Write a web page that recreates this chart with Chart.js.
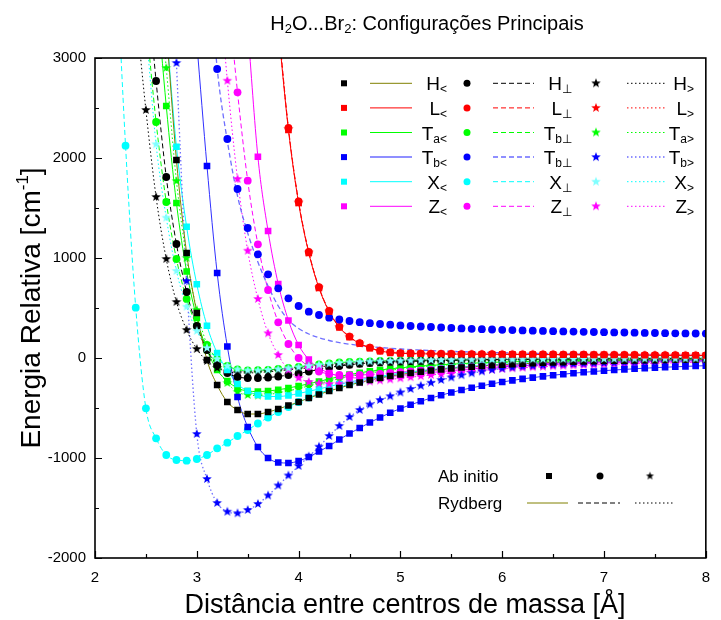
<!DOCTYPE html>
<html>
<head>
<meta charset="utf-8">
<script src="https://cdn.jsdelivr.net/npm/chart.js@4.4.1/dist/chart.umd.min.js"></script>
<style>
  html, body { margin: 0; padding: 0; background: #fff; }
</style>
</head>
<body>
<canvas id="grafico" width="721" height="620"></canvas>
<script>
// distancias (Angstrom) - grade comum a todas as series
var distancias = [2.2, 2.3, 2.4, 2.5, 2.6, 2.7, 2.8, 2.9, 3.0, 3.1, 3.2, 3.3, 3.4, 3.5, 3.6, 3.7, 3.8, 3.9,
  4.0, 4.1, 4.2, 4.3, 4.4, 4.5, 4.6, 4.7, 4.8, 4.9, 5.0, 5.1, 5.2, 5.3, 5.4, 5.5, 5.6, 5.7, 5.8, 5.9,
  6.0, 6.1, 6.2, 6.3, 6.4, 6.5, 6.6, 6.7, 6.8, 6.9, 7.0, 7.1, 7.2, 7.3, 7.4, 7.5, 7.6, 7.7, 7.8, 7.9, 8.0];

// energias relativas (cm-1)
var hMenor = [null, null, null, null, null, 3300, 1980, 1050, 450, -20, -270, -440, -520, -560, -560, -540, -510, -475,
  -440, -400, -365, -330, -300, -270, -245, -220, -200, -180, -165, -150, -137, -125, -114, -104, -95, -87, -80, -73,
  -67, -62, -57, -52, -48, -44, -41, -38, -35, -32, -30, -28, -26, -24, -22, -21, -19, -18, -17, -16, -15];
var hPerp = [null, null, null, 3900, 2770, 1810, 1140, 660, 320, 80, -70, -150, -190, -200, -200, -195, -185, -170,
  -155, -135, -115, -95, -80, -68, -58, -50, -44, -39, -35, -32, -29, -27, -25, -23, -21, -20, -18, -17,
  -16, -15, -14, -13, -12, -12, -11, -10, -10, -9, -9, -8, -8, -8, -7, -7, -7, -6, -6, -6, -5];
var hMaior = [null, null, 3500, 2480, 1610, 990, 560, 280, 90, -30, -100, -135, -150, -150, -145, -138, -128, -118,
  -108, -98, -88, -79, -71, -64, -57, -51, -46, -41, -37, -34, -31, -28, -26, -24, -22, -20, -19, -18,
  -17, -16, -15, -14, -13, -12, -12, -11, -10, -10, -9, -9, -8, -8, -8, -7, -7, -7, -6, -6, -6];

var lMenor = [null, null, null, null, null, null, null, null, null, null, null, null, null, null, null, null, 3300, 2280,
  1550, 1050, 700, 463, 307, 210, 145, 100, 70, 55, 47, 44, 42, 41, 40, 39, 38, 38, 37, 37,
  36, 36, 35, 35, 34, 34, 33, 33, 32, 31, 31, 30, 30, 29, 28, 28, 27, 27, 26, 26, 25];
var lPerp = [null, null, null, null, null, null, null, null, null, null, null, null, null, null, null, null, 3350, 2300,
  1565, 1060, 708, 470, 312, 214, 148, 103, 72, 56, 48, 45, 43, 42, 41, 40, 39, 39, 38, 38,
  37, 37, 36, 36, 35, 35, 34, 34, 33, 32, 32, 31, 31, 30, 29, 29, 28, 28, 27, 27, 26];
var lMaior = [null, null, null, null, null, null, null, null, null, null, null, null, null, null, null, null, 3320, 2290,
  1555, 1055, 704, 466, 309, 212, 146, 101, 71, 55, 47, 44, 42, 41, 40, 39, 38, 38, 37, 37,
  36, 36, 35, 35, 34, 34, 33, 33, 32, 31, 31, 30, 30, 29, 28, 28, 27, 27, 26, 26, 25];

var taMenor = [null, null, null, null, 3700, 2520, 1550, 865, 400, 80, -120, -230, -300, -330, -335, -330, -318, -300,
  -280, -258, -235, -210, -185, -165, -148, -133, -120, -108, -98, -89, -81, -74, -68, -62, -57, -52, -48, -44,
  -41, -38, -35, -33, -31, -29, -27, -25, -24, -22, -21, -20, -19, -18, -17, -16, -15, -14, -13, -13, -12];
var taPerp = [null, null, null, 3400, 2360, 1560, 990, 590, 320, 130, -10, -80, -115, -125, -122, -118, -110, -100,
  -88, -75, -63, -53, -45, -40, -36, -33, -30, -28, -26, -24, -22, -21, -20, -19, -18, -17, -16, -15,
  -14, -14, -13, -12, -12, -11, -11, -10, -10, -9, -9, -9, -8, -8, -8, -7, -7, -7, -7, -6, -6];
var taMaior = [null, null, null, null, 4000, 2900, 1770, 1000, 480, 130, -100, -250, -340, -370, -375, -365, -350, -330,
  -305, -280, -255, -230, -207, -186, -167, -150, -135, -122, -110, -99, -90, -82, -75, -68, -62, -57, -52, -48,
  -44, -41, -38, -35, -33, -31, -29, -27, -25, -24, -22, -21, -20, -19, -18, -17, -16, -15, -14, -14, -13];

var tbMenor = [null, null, null, null, null, null, null, null, 3150, 1920, 850, 115, -390, -690, -890, -1000, -1045, -1050,
  -1030, -990, -935, -880, -815, -755, -700, -645, -595, -547, -505, -468, -433, -400, -372, -345, -320, -298, -278, -258,
  -240, -224, -209, -196, -184, -172, -162, -152, -143, -135, -127, -120, -114, -108, -102, -97, -92, -88, -84, -80, -77];
var tbPerp = [null, null, null, null, null, null, null, null, null, 4000, 2890, 2190, 1690, 1300, 1037, 837, 697, 597,
  520, 463, 430, 403, 385, 370, 358, 348, 340, 333, 326, 320, 315, 310, 305, 300, 296, 292, 288, 285,
  282, 279, 276, 273, 271, 268, 266, 264, 262, 260, 258, 256, 255, 253, 251, 250, 248, 247, 246, 245, 244];
// ajuste Rydberg do Tb perpendicular (nao segue os pontos na cauda)
var tbPerpAjuste = [null, null, null, null, null, null, null, null, null, 4200, 2900, 2170, 1620, 1250, 960, 720, 520, 380,
  295, 240, 203, 175, 154, 138, 125, 114, 105, 97, 90, 84, 79, 74, 70, 66, 63, 60, 57, 54,
  52, 50, 48, 46, 44, 42, 41, 39, 38, 37, 35, 34, 33, 32, 31, 30, 29, 28, 27, 26, 25];
var tbMaior = [null, null, null, null, null, 5500, 2950, 770, -760, -1210, -1450, -1537, -1553, -1520, -1460, -1375, -1275, -1175,
  -1080, -985, -887, -780, -680, -590, -520, -465, -420, -382, -345, -310, -278, -248, -220, -195, -172, -152, -134, -118,
  -105, -94, -85, -78, -72, -67, -63, -59, -56, -53, -50, -48, -46, -44, -42, -41, -40, -38, -37, -36, -35];

var xMenor = [null, null, null, null, null, 3300, 2113, 1313, 737, 323, 50, -120, -260, -330, -370, -385, -385, -375,
  -355, -333, -310, -285, -262, -240, -220, -200, -183, -167, -152, -139, -127, -116, -106, -97, -89, -82, -75, -69,
  -63, -58, -54, -50, -46, -43, -40, -37, -34, -32, -30, -28, -26, -24, -23, -21, -20, -19, -18, -17, -16];
var xPerp = [4200, 2123, 503, -503, -803, -970, -1020, -1027, -1010, -970, -903, -847, -780, -720, -655, -595, -540, -490,
  -440, -395, -355, -320, -290, -262, -237, -215, -195, -177, -160, -146, -133, -121, -110, -100, -91, -83, -76, -70,
  -64, -59, -54, -50, -46, -42, -39, -36, -33, -31, -29, -27, -25, -23, -22, -20, -19, -18, -17, -16, -15];
var xMaior = [null, null, null, 3300, 2137, 1403, 870, 513, 270, 100, -10, -80, -115, -125, -125, -120, -113, -103,
  -92, -80, -68, -58, -50, -44, -39, -35, -32, -29, -27, -25, -23, -21, -20, -19, -18, -17, -16, -15,
  -14, -14, -13, -12, -12, -11, -11, -10, -10, -9, -9, -9, -8, -8, -8, -7, -7, -7, -7, -6, -6];

var zMenor = [null, null, null, null, null, null, null, null, null, null, null, null, null, 3300, 2013, 1270, 740, 375,
  130, -15, -100, -150, -180, -195, -200, -198, -192, -184, -175, -165, -155, -145, -135, -126, -117, -109, -101, -94,
  -88, -82, -77, -72, -67, -63, -59, -55, -52, -49, -46, -43, -41, -39, -37, -35, -33, -31, -30, -28, -27];
var zPerp = [null, null, null, null, null, null, null, null, null, null, null, 3700, 2657, 1773, 1137, 680, 357, 140,
  0, -85, -135, -160, -170, -172, -170, -165, -158, -150, -142, -134, -126, -118, -111, -104, -97, -91, -85, -80,
  -75, -70, -66, -62, -58, -55, -52, -49, -46, -43, -41, -39, -37, -35, -33, -31, -30, -28, -27, -26, -25];
var zMaior = [null, null, null, null, null, null, null, null, null, null, 4000, 2773, 1790, 1073, 590, 247, 30, -120,
  -200, -240, -255, -260, -258, -252, -244, -235, -225, -214, -203, -192, -181, -170, -160, -150, -141, -132, -124, -116,
  -109, -103, -97, -92, -87, -82, -78, -74, -71, -68, -65, -62, -59, -56, -54, -52, -50, -48, -46, -44, -42];

var ticksX = [2, 3, 4, 5, 6, 7, 8];
var ticksY = [-2000, -1000, 0, 1000, 2000, 3000];

var FONTE = '"Liberation Sans", Arial, sans-serif';

// estrela cheia de 5 pontas como imagem (o 'star' do Chart.js e so linhas)
function fazEstrela(cor, r) {
  var c = document.createElement('canvas');
  var s = Math.ceil(r * 2 + 2);
  c.width = s; c.height = s;
  var g = c.getContext('2d');
  g.fillStyle = cor;
  g.beginPath();
  for (var i = 0; i < 10; i++) {
    var ang = -Math.PI / 2 + i * Math.PI / 5;
    var rr = i % 2 === 0 ? r : r * 0.42;
    g.lineTo(s / 2 + rr * Math.cos(ang), s / 2 + rr * Math.sin(ang));
  }
  g.closePath();
  g.fill();
  return c;
}

var tracos = { solido: [], tracejado: [5, 3], pontilhado: [1.5, 2.5] };

// linha da legenda: [menor, perpendicular, maior]
var series = [
  { dados: hMenor,  rot: ['H', '<'],   cor: '#000000', linha: '#808000', forma: 'rect',   traco: 'solido',     lin: 0, col: 0, ordem: 2 },
  { dados: hPerp,   rot: ['H', '⊥'],   cor: '#000000', linha: '#000000', forma: 'circle', traco: 'tracejado',  lin: 0, col: 1, ordem: 10 },
  { dados: hMaior,  rot: ['H', '>'],   cor: '#000000', linha: '#000000', forma: 'star',   traco: 'pontilhado', lin: 0, col: 2, ordem: 11 },
  { dados: lMenor,  rot: ['L', '<'],   cor: '#ff0000', linha: '#ff0000', forma: 'rect',   traco: 'solido',     lin: 1, col: 0, ordem: 0 },
  { dados: lPerp,   rot: ['L', '⊥'],   cor: '#ff0000', linha: '#ff0000', forma: 'circle', traco: 'tracejado',  lin: 1, col: 1, ordem: 16 },
  { dados: lMaior,  rot: ['L', '>'],   cor: '#ff0000', linha: '#ff0000', forma: 'star',   traco: 'pontilhado', lin: 1, col: 2, ordem: 17 },
  { dados: taMenor, rot: ['T', 'a<'],  cor: '#00ff00', linha: '#00ff00', forma: 'rect',   traco: 'solido',     lin: 2, col: 0, ordem: 12 },
  { dados: taPerp,  rot: ['T', 'b⊥'],  cor: '#00ff00', linha: '#00ff00', forma: 'circle', traco: 'tracejado',  lin: 2, col: 1, ordem: 13 },
  { dados: taMaior, rot: ['T', 'a>'],  cor: '#00ff00', linha: '#00ff00', forma: 'star',   traco: 'pontilhado', lin: 2, col: 2, ordem: 14 },
  { dados: tbMenor, rot: ['T', 'b<'],  cor: '#0000ff', linha: '#3030ff', forma: 'rect',   traco: 'solido',     lin: 3, col: 0, ordem: 3 },
  { dados: tbPerp,  rot: ['T', 'b⊥'],  cor: '#0000ff', linha: '#6f6fff', forma: 'circle', traco: 'tracejado',  lin: 3, col: 1, ordem: 4, ajuste: tbPerpAjuste },
  { dados: tbMaior, rot: ['T', 'b>'],  cor: '#0000ff', linha: '#6f6fff', forma: 'star',   traco: 'pontilhado', lin: 3, col: 2, ordem: 5 },
  { dados: xMenor,  rot: ['X', '<'],   cor: '#00ffff', linha: '#00ffff', forma: 'rect',   traco: 'solido',     lin: 4, col: 0, ordem: 9 },
  { dados: xPerp,   rot: ['X', '⊥'],   cor: '#00ffff', linha: '#00ffff', forma: 'circle', traco: 'tracejado',  lin: 4, col: 1, ordem: 15 },
  { dados: xMaior,  rot: ['X', '>'],   cor: '#80ffff', linha: '#00ffff', forma: 'star',   traco: 'pontilhado', lin: 4, col: 2, ordem: 1 },
  { dados: zMenor,  rot: ['Z', '<'],   cor: '#ff00ff', linha: '#ff00ff', forma: 'rect',   traco: 'solido',     lin: 5, col: 0, ordem: 6 },
  { dados: zPerp,   rot: ['Z', '⊥'],   cor: '#ff00ff', linha: '#ff00ff', forma: 'circle', traco: 'tracejado',  lin: 5, col: 1, ordem: 7 },
  { dados: zMaior,  rot: ['Z', '>'],   cor: '#ff00ff', linha: '#ff00ff', forma: 'star',   traco: 'pontilhado', lin: 5, col: 2, ordem: 8 }
];

function pontos(arr) {
  var out = [];
  for (var i = 0; i < distancias.length; i++) {
    if (arr[i] !== null) out.push({ x: distancias[i], y: arr[i] });
  }
  return out;
}

var datasets = [];
series.forEach(function (s) {
  s.estrela = fazEstrela(s.cor, 5);
  // curva do ajuste Rydberg
  datasets.push({
    data: pontos(s.ajuste || s.dados),
    showLine: true,
    borderColor: s.linha,
    borderWidth: s.linha === '#6f6fff' ? 1.3 : 1,
    borderDash: tracos[s.traco],
    cubicInterpolationMode: 'monotone',
    pointRadius: 0,
    order: 50,
    clip: 0
  });
  // pontos ab initio
  datasets.push({
    data: pontos(s.dados),
    showLine: false,
    pointStyle: s.forma === 'star' ? s.estrela : s.forma,
    pointRadius: s.forma === 'rect' ? 4.7 : 3.9,
    pointBackgroundColor: s.cor,
    pointBorderWidth: 0,
    order: s.ordem,
    clip: 0
  });
});

function marcador(ctx, s, x, y) {
  ctx.fillStyle = s.cor;
  if (s.forma === 'rect') {
    ctx.fillRect(x - 3, y - 3, 6, 6);
  } else if (s.forma === 'circle') {
    ctx.beginPath(); ctx.arc(x, y, 3.5, 0, Math.PI * 2); ctx.fill();
  } else {
    ctx.drawImage(s.estrela, x - s.estrela.width / 2, y - s.estrela.height / 2);
  }
}

function segmento(ctx, cor, traco, x1, x2, y, larg) {
  ctx.save();
  ctx.strokeStyle = cor;
  ctx.lineWidth = larg || 1;
  ctx.setLineDash(tracos[traco]);
  ctx.beginPath(); ctx.moveTo(x1, y); ctx.lineTo(x2, y); ctx.stroke();
  ctx.restore();
}

// texto com sub/sobrescritos: partes = [texto, tamanho, deslocamento vertical]
function textoRico(ctx, partes, x, y, alinhar) {
  var larg = 0;
  partes.forEach(function (p) { ctx.font = p[1] + 'px ' + FONTE; larg += ctx.measureText(p[0]).width; });
  var cx = alinhar === 'center' ? x - larg / 2 : (alinhar === 'right' ? x - larg : x);
  ctx.textAlign = 'left';
  ctx.textBaseline = 'alphabetic';
  partes.forEach(function (p) {
    ctx.font = p[1] + 'px ' + FONTE;
    ctx.fillText(p[0], cx, y + p[2]);
    cx += ctx.measureText(p[0]).width;
  });
}

var moldura = {
  id: 'moldura',
  afterDraw: function (chart) {
    var ctx = chart.ctx, a = chart.chartArea;
    var sx = chart.scales.x, sy = chart.scales.y;
    ctx.save();
    ctx.fillStyle = '#000';
    ctx.strokeStyle = '#000';

    // tracinhos para dentro
    ctx.lineWidth = 1.2;
    ctx.beginPath();
    for (var v = 2; v <= 8.001; v += 0.5) {
      var px = Math.round(sx.getPixelForValue(v)) + 0.5;
      var len = Math.abs(v - Math.round(v)) < 0.01 ? 7 : 4;
      ctx.moveTo(px, a.bottom); ctx.lineTo(px, a.bottom - len);
    }
    for (var w = -2000; w <= 3000; w += 500) {
      var py = Math.round(sy.getPixelForValue(w)) + 0.5;
      var len2 = w % 1000 === 0 ? 7 : 4;
      ctx.moveTo(a.left, py); ctx.lineTo(a.left + len2, py);
    }
    ctx.stroke();

    ctx.lineWidth = 1.6;
    ctx.strokeRect(a.left, a.top, a.right - a.left, a.bottom - a.top);

    // titulo
    ctx.fillStyle = '#000';
    textoRico(ctx, [['H', 20, 0], ['2', 13, 3], ['O...Br', 20, 0], ['2', 13, 3], [': Configurações Principais', 20, 0]], 427, 30, 'center');

    // titulos dos eixos
    textoRico(ctx, [['Distância entre centros de massa [Å]', 27, 0]], 405, 613, 'center');
    ctx.save();
    ctx.translate(40, 308);
    ctx.rotate(-Math.PI / 2);
    textoRico(ctx, [['Energia Relativa [cm', 28, 0], ['-1', 17, -12], [']', 28, 0]], 0, 0, 'center');
    ctx.restore();

    // legenda principal 6 x 3
    var colMarc = [344, 467, 596];
    var colLinha = [[370, 412], [493, 534], [627, 667]];
    var colRot = [447, 572, 694];
    series.forEach(function (s) {
      var y = 83.3 + s.lin * 24.6;
      marcador(ctx, s, colMarc[s.col], y);
      var claro = s.lin === 3;
      segmento(ctx, claro ? '#8f8fff' : s.linha, s.traco, colLinha[s.col][0], colLinha[s.col][1], y, claro ? 2 : 1);
      ctx.fillStyle = '#000';
      textoRico(ctx, [[s.rot[0], 19, 0], [s.rot[1], 12, 3]], colRot[s.col], y + 7, 'right');
    });

    // legenda Ab initio / Rydberg
    ctx.fillStyle = '#000';
    textoRico(ctx, [['Ab initio', 17, 0]], 438, 482, 'left');
    textoRico(ctx, [['Rydberg', 17, 0]], 438, 509, 'left');
    marcador(ctx, { cor: '#000000', forma: 'rect' }, 549, 476);
    marcador(ctx, { cor: '#000000', forma: 'circle' }, 600, 476);
    var est = fazEstrela('#000000', 4.2);
    ctx.drawImage(est, 650 - est.width / 2, 476 - est.height / 2);
    segmento(ctx, '#808000', 'solido', 527, 568, 503, 1);
    segmento(ctx, '#000000', 'tracejado', 578, 620, 503, 1);
    segmento(ctx, '#000000', 'pontilhado', 635, 675, 503, 1);
    ctx.restore();
  }
};

new Chart(document.getElementById('grafico'), {
  type: 'scatter',
  data: { datasets: datasets },
  options: {
    responsive: false,
    animation: false,
    events: [],
    layout: { padding: { left: 0, right: 8, top: 58, bottom: 0 } },
    plugins: { legend: { display: false }, tooltip: { enabled: false }, title: { display: false } },
    scales: {
      x: {
        type: 'linear', min: 2, max: 8,
        afterFit: function (s) { s.height = 62; },
        afterBuildTicks: function (s) { s.ticks = ticksX.map(function (v) { return { value: v }; }); },
        grid: { display: false, drawTicks: false },
        border: { display: false },
        ticks: { padding: 11, color: '#000', font: { size: 15, family: FONTE }, callback: function (v) { return String(v); } }
      },
      y: {
        type: 'linear', min: -2000, max: 3000,
        afterFit: function (s) { s.width = 95; },
        afterBuildTicks: function (s) { s.ticks = ticksY.map(function (v) { return { value: v }; }); },
        grid: { display: false, drawTicks: false },
        border: { display: false },
        ticks: { padding: 9, color: '#000', font: { size: 15, family: FONTE }, callback: function (v) { return String(v); } }
      }
    }
  },
  plugins: [moldura]
});
</script>
</body>
</html>
